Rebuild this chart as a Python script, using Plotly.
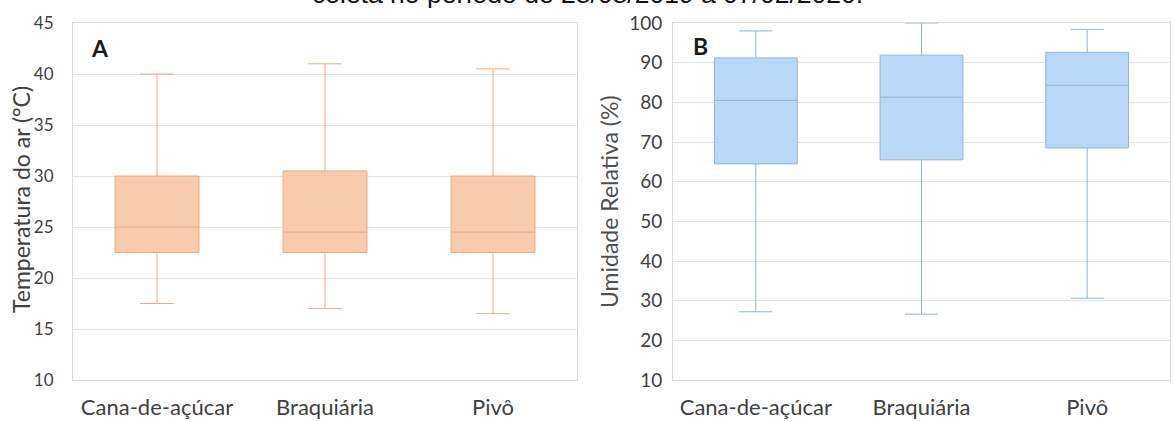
import plotly.graph_objects as go

categories = ["Cana-de-açúcar", "Braquiária", "Pivô"]

# Panel A - Temperatura do ar (°C)
temp_lower = [17.5, 17.0, 16.5]
temp_q1 = [22.5, 22.5, 22.5]
temp_median = [25.0, 24.5, 24.5]
temp_q3 = [30.0, 30.5, 30.0]
temp_upper = [40.0, 41.0, 40.5]

# Panel B - Umidade Relativa (%)
ur_lower = [27.2, 26.6, 30.6]
ur_q1 = [64.5, 65.5, 68.5]
ur_median = [80.5, 81.3, 84.3]
ur_q3 = [91.2, 91.9, 92.6]
ur_upper = [98.0, 100.0, 98.4]

temp_ticks = [10, 15, 20, 25, 30, 35, 40, 45]
ur_ticks = [10, 20, 30, 40, 50, 60, 70, 80, 90, 100]

title_text = "coleta no período de 28/08/2019 a 07/02/2020."
ytitle_a = "Temperatura do ar (°C)"
ytitle_b = "Umidade Relativa (%)"

FONT = "Lato"
TXT = "#404040"
GRID = "#E3E3E3"
BORDER = "#D9D9D9"
XTICK_SIZE = 22
TITLE_SIZE = 23

fig = go.Figure()

fig.add_trace(go.Box(
    x=categories, q1=temp_q1, median=temp_median, q3=temp_q3,
    lowerfence=temp_lower, upperfence=temp_upper,
    xaxis="x", yaxis="y",
    fillcolor="#F8CBAD", line=dict(color="#EAA985", width=1),
    width=0.5, whiskerwidth=0.4, boxpoints=False, showlegend=False,
    hoverinfo="skip",
))

fig.add_trace(go.Box(
    x=categories, q1=ur_q1, median=ur_median, q3=ur_q3,
    lowerfence=ur_lower, upperfence=ur_upper,
    xaxis="x2", yaxis="y2",
    fillcolor="#B9D8F8", line=dict(color="#8DB4DA", width=1),
    width=0.5, whiskerwidth=0.4, boxpoints=False, showlegend=False,
    hoverinfo="skip",
))

W, H = 1174, 422
top, bottom = 23, 380
ydom = [1 - bottom / H, 1 - top / H]

axis_common = dict(showline=True, mirror=True, linecolor=BORDER, linewidth=1,
                   ticks="", zeroline=False, automargin=False)

fig.update_layout(
    width=W, height=H,
    margin=dict(l=0, r=0, t=0, b=0),
    paper_bgcolor="white", plot_bgcolor="white",
    font=dict(family=FONT, size=XTICK_SIZE, color=TXT),
    xaxis=dict(domain=[73 / W, 577 / W], anchor="y", showgrid=False,
               range=[-0.5, 2.5],
               tickfont=dict(family=FONT, size=XTICK_SIZE, color=TXT),
               ticklabelstandoff=8, **axis_common),
    yaxis=dict(domain=ydom, anchor="x", range=[10, 45], tickvals=temp_ticks,
               showgrid=True, gridcolor=GRID, gridwidth=1,
               tickfont=dict(family=FONT, size=17, color=TXT),
               ticklabelstandoff=15, **axis_common),
    xaxis2=dict(domain=[673 / W, 1170 / W], anchor="y2", showgrid=False,
                range=[-0.5, 2.5],
                tickfont=dict(family=FONT, size=XTICK_SIZE, color=TXT),
                ticklabelstandoff=8, **axis_common),
    yaxis2=dict(domain=ydom, anchor="x2", range=[10, 100], tickvals=ur_ticks,
                showgrid=True, gridcolor=GRID, gridwidth=1,
                tickfont=dict(family=FONT, size=19, color=TXT),
                ticklabelstandoff=6, **axis_common),
    annotations=[
        dict(text=ytitle_a, x=21 / W, y=1 - 200 / H, xref="paper", yref="paper",
             xanchor="center", yanchor="middle", textangle=-90, showarrow=False,
             font=dict(family=FONT, size=TITLE_SIZE, color=TXT)),
        dict(text=ytitle_b, x=609 / W, y=1 - 202 / H, xref="paper", yref="paper",
             xanchor="center", yanchor="middle", textangle=-90, showarrow=False,
             font=dict(family=FONT, size=TITLE_SIZE, color="#505050")),
        dict(text="<b>A</b>", x=89 / W, y=1 - 48 / H, xref="paper", yref="paper",
             xanchor="left", yanchor="middle", showarrow=False,
             font=dict(family=FONT, size=23, color="#1a1a1a")),
        dict(text="<b>B</b>", x=691 / W, y=1 - 46 / H, xref="paper", yref="paper",
             xanchor="left", yanchor="middle", showarrow=False,
             font=dict(family=FONT, size=23, color="#1a1a1a")),
        dict(text=title_text, x=0.5, y=1 + 6 / H, xref="paper", yref="paper",
             xanchor="center", yanchor="middle", showarrow=False,
             font=dict(family="Liberation Sans, Arial", size=26.5, color="#111111")),
    ],
)

fig.write_html("out.html", config={"displayModeBar": False},
               post_script="document.body.style.margin='0';")
